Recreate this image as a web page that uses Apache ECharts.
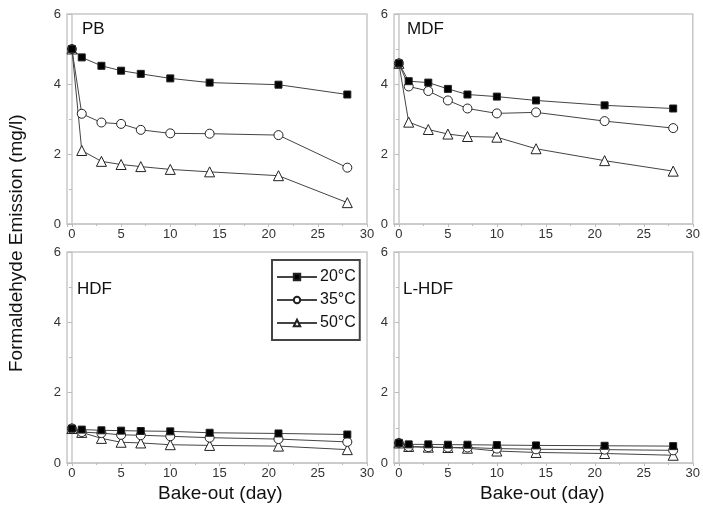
<!DOCTYPE html>
<html>
<head>
<meta charset="utf-8">
<script src="https://cdn.jsdelivr.net/npm/echarts@6/dist/echarts.min.js"></script>
<style>
html, body { margin: 0; padding: 0; background: #fff; }
#chart { width: 703px; height: 515px; }
</style>
</head>
<body>
<div id="chart"></div>
<script>
// bake-out days, shared by every panel
var days = [0, 1, 3, 5, 7, 10, 14, 21, 28]
var panels = ['PB', 'MDF', 'HDF', 'L-HDF']
var temps = ['20°C', '35°C', '50°C']

// PB
var pb20 = [5.0, 4.76, 4.52, 4.38, 4.29, 4.16, 4.04, 3.98, 3.70]
var pb35 = [5.0, 3.15, 2.90, 2.86, 2.69, 2.59, 2.58, 2.54, 1.61]
var pb50 = [5.0, 2.10, 1.79, 1.70, 1.64, 1.56, 1.49, 1.38, 0.61]
// MDF
var mdf20 = [4.59, 4.08, 4.04, 3.86, 3.70, 3.64, 3.53, 3.39, 3.30]
var mdf35 = [4.59, 3.93, 3.80, 3.53, 3.30, 3.16, 3.19, 2.94, 2.74]
var mdf50 = [4.59, 2.91, 2.70, 2.57, 2.50, 2.48, 2.15, 1.81, 1.51]
// HDF
var hdf20 = [0.98, 0.95, 0.93, 0.92, 0.91, 0.90, 0.86, 0.84, 0.81]
var hdf35 = [0.98, 0.88, 0.85, 0.80, 0.79, 0.76, 0.72, 0.68, 0.60]
var hdf50 = [0.98, 0.87, 0.70, 0.59, 0.57, 0.52, 0.50, 0.48, 0.38]
// L-HDF
var lhdf20 = [0.57, 0.53, 0.53, 0.52, 0.52, 0.51, 0.50, 0.49, 0.48]
var lhdf35 = [0.57, 0.46, 0.45, 0.44, 0.44, 0.41, 0.39, 0.38, 0.36]
var lhdf50 = [0.57, 0.47, 0.45, 0.44, 0.42, 0.34, 0.30, 0.27, 0.22]

var panelData = [
  [pb20, pb35, pb50],
  [mdf20, mdf35, mdf50],
  [hdf20, hdf35, hdf50],
  [lhdf20, lhdf35, lhdf50]
]

var font = 'Liberation Sans, Arial, sans-serif'
var gridPos = [
  {left: 67, top: 14, width: 300, height: 210},
  {left: 394, top: 14, width: 299, height: 210},
  {left: 67, top: 252, width: 300, height: 211},
  {left: 394, top: 252, width: 299, height: 211}
]
var labelPos = [[82, 21], [407, 21], [77, 281], [403, 281]]

var symbols = [
  {symbol: 'rect', size: 7, fill: '#000'},
  {symbol: 'circle', size: 9, fill: '#fff'},
  {symbol: 'triangle', size: 10, fill: '#fff'}
]

var grids = []
var xAxes = []
var yAxes = []
var series = []
var graphics = []

for (var p = 0; p < 4; p++) {
  grids.push(Object.assign({
    show: true,
    borderColor: '#c8c8c8',
    borderWidth: 1.5,
    backgroundColor: 'transparent'
  }, gridPos[p]))
  xAxes.push({
    type: 'value',
    gridIndex: p,
    min: -0.5,
    max: 30,
    splitNumber: 6,
    axisLine: {show: true, onZero: false, lineStyle: {color: '#c8c8c8', width: 1.5}},
    axisTick: {show: true, length: 3, lineStyle: {color: '#bbb'}},
    minorTick: {show: true, splitNumber: 2, length: 2, lineStyle: {color: '#bbb'}},
    splitLine: {show: false},
    axisLabel: {
      color: '#333', fontSize: 13, fontFamily: font, margin: 4,
      showMinLabel: false,
      formatter: function (v) { return v < 0 ? '' : v }
    }
  })
  yAxes.push({
    type: 'value',
    gridIndex: p,
    min: 0,
    max: 6,
    interval: 2,
    axisLine: {show: true, lineStyle: {color: '#c8c8c8', width: 1.5}},
    axisTick: {show: true, length: 4, lineStyle: {color: '#bbb'}},
    minorTick: {show: true, splitNumber: 2, length: 3, lineStyle: {color: '#bbb'}},
    splitLine: {show: false},
    axisLabel: {color: '#333', fontSize: 13, fontFamily: font, margin: 6}
  })
  for (var t = 0; t < 3; t++) {
    var vals = panelData[p][t]
    var pts = []
    for (var i = 0; i < days.length; i++) pts.push([days[i], vals[i]])
    series.push({
      name: temps[t],
      type: 'line',
      xAxisIndex: p,
      yAxisIndex: p,
      data: pts,
      symbol: symbols[t].symbol,
      symbolSize: symbols[t].size,
      showAllSymbol: true,
      z: 3 - t,
      lineStyle: {color: '#444', width: 1},
      itemStyle: {color: symbols[t].fill, borderColor: '#222', borderWidth: 1}
    })
  }
  graphics.push({
    type: 'text',
    left: labelPos[p][0],
    top: labelPos[p][1],
    style: {text: panels[p], fontSize: 17, fontFamily: font, fill: '#111'}
  })
}

var option = {
  animation: false,
  backgroundColor: '#fff',
  grid: grids,
  xAxis: xAxes,
  yAxis: yAxes,
  series: series,
  legend: {
    data: temps,
    orient: 'vertical',
    left: 272,
    top: 260,
    width: 88,
    padding: [9, 4, 9, 4],
    itemGap: 7,
    itemWidth: 40,
    itemHeight: 8,
    borderColor: '#444',
    borderWidth: 2,
    selectedMode: false,
    textStyle: {fontSize: 16, fontFamily: font, color: '#111', padding: [0, 0, 0, -2]}
  },
  graphic: graphics.concat([
    {
      type: 'text',
      left: 158,
      top: 484,
      style: {text: 'Bake-out (day)', fontSize: 19, fontFamily: font, fill: '#111'}
    },
    {
      type: 'text',
      left: 480,
      top: 484,
      style: {text: 'Bake-out (day)', fontSize: 19, fontFamily: font, fill: '#111'}
    },
    {
      type: 'text',
      x: 7,
      y: 372,
      rotation: Math.PI / 2,
      style: {text: 'Formaldehyde Emission (mg/l)', fontSize: 19, fontFamily: font, fill: '#111'}
    }
  ])
}

var chart = echarts.init(document.getElementById('chart'))
chart.setOption(option)
</script>
</body>
</html>
